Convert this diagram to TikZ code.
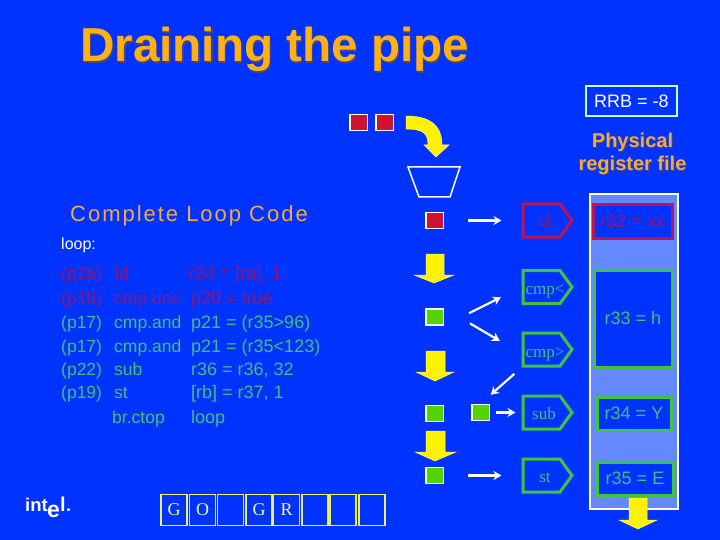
\documentclass[tikz,border=0pt]{standalone}
\usepackage{fontspec}
\setmainfont{Liberation Sans}
\newfontfamily\timesfont{Liberation Serif}
\usetikzlibrary{arrows.meta,shapes.symbols}
\definecolor{bgblue}{RGB}{0,51,255}
\definecolor{filelight}{RGB}{102,136,255}
\definecolor{gold}{RGB}{240,170,70}
\definecolor{titlegold}{RGB}{255,176,20}
\definecolor{shade}{RGB}{70,70,130}
\definecolor{donered}{RGB}{155,20,100}
\definecolor{boxred}{RGB}{185,20,85}
\definecolor{squarered}{RGB}{208,18,50}
\definecolor{donegreen}{RGB}{64,192,125}
\definecolor{boxgreen}{RGB}{64,196,64}
\definecolor{squaregreen}{RGB}{84,212,0}
\definecolor{slotyellow}{RGB}{240,240,90}
\tikzset{
  codetext/.style={anchor=base west,inner sep=0pt,font=\fontsize{17.5}{18}\selectfont},
  regtext/.style={font=\fontsize{18}{18}\selectfont,text=donegreen},
  regbox/.style={draw=boxgreen,line width=3pt,fill=bgblue,inner sep=0pt,regtext},
  uop/.style={signal,signal to=east,signal pointer angle=108,draw=boxgreen,line width=3pt,
    inner sep=0pt,minimum width=49pt,minimum height=33pt},
  uoptext/.style={anchor=base,inner sep=0pt,font=\timesfont\fontsize{17}{17}\selectfont,text=donegreen},
  square/.style={draw=white,line width=1.5pt,minimum width=17.5pt,minimum height=16pt,inner sep=0pt,fill=squaregreen},
  slot/.style={draw=slotyellow,line width=1.5pt,minimum width=26pt,minimum height=31pt,inner sep=0pt,
    font=\timesfont\fontsize{18}{18}\selectfont,text=slotyellow!60!white},
  wire/.style={draw=white,line width=2.2pt,-{Stealth[length=8pt,width=9pt]}},
  yarrow/.style={fill=yellow,draw=yellow!45!white,line width=.5pt},
  headline/.style={anchor=base,inner sep=0pt,font=\bfseries\fontsize{20}{20}\selectfont}
}
\begin{document}
\begin{tikzpicture}[x=1pt,y=-1pt]
\useasboundingbox (0,0) rectangle (720,540);
\fill[bgblue] (0,0) rectangle (720,540);

\node[anchor=base west,inner sep=0pt,font=\bfseries\fontsize{47.6}{48}\selectfont,text=shade] (titleshade) at (81.5,63.5) {Draining the pipe};
\node[anchor=base west,inner sep=0pt,font=\bfseries\fontsize{47.6}{48}\selectfont,text=titlegold] (title) at (80,62) {Draining the pipe};

\node[draw=green!20!white,line width=1.5pt,minimum width=91pt,minimum height=30pt,inner sep=0pt,
  font=\fontsize{18}{18}\selectfont,text=white] (rrb) at (631.5,101) {RRB = -8};
\node[headline,text=shade] (physshade) at (633.5,149) {Physical};
\node[headline,text=gold] (phys) at (632.5,148) {Physical};
\node[headline,text=shade] (regshade) at (633.5,172) {register file};
\node[headline,text=gold] (reg) at (632.5,171) {register file};

% code listing
\node[anchor=base west,inner sep=0pt,font=\addfontfeatures{LetterSpace=9}\fontsize{22}{22}\selectfont,text=gold] (codetitle) at (70,222) {Complete Loop Code};
\node[codetext,text=white,font=\fontsize{16}{16}\selectfont] (looplabel) at (61,249) {loop:};

\node[codetext,text=donered] (p1) at (61,279) {(p16)};
\node[codetext,text=donered] (i1) at (115,279) {ld};
\node[codetext,text=donered,font=\fontsize{18}{18}\selectfont] (a1) at (189,279) {r34 = [ra], 1};
\node[codetext,text=donered] (p2) at (61,304) {(p16)};
\node[codetext,text=donered] (i2) at (114,304) {cmp.unc};
\node[codetext,text=donered,font=\fontsize{18}{18}\selectfont] (a2) at (191,304) {p20 = true};
\node[codetext,text=donegreen] (p3) at (61,328) {(p17)};
\node[codetext,text=donegreen] (i3) at (114,328) {cmp.and};
\node[codetext,text=donegreen,font=\fontsize{18}{18}\selectfont] (a3) at (191,328) {p21 = (r35>96)};
\node[codetext,text=donegreen] (p4) at (61,352) {(p17)};
\node[codetext,text=donegreen] (i4) at (114,352) {cmp.and};
\node[codetext,text=donegreen,font=\fontsize{18}{18}\selectfont] (a4) at (191,352) {p21 = (r35<123)};
\node[codetext,text=donegreen] (p5) at (61,375) {(p22)};
\node[codetext,text=donegreen] (i5) at (114,375) {sub};
\node[codetext,text=donegreen,font=\fontsize{18}{18}\selectfont] (a5) at (191,375) {r36 = r36, 32};
\node[codetext,text=donegreen] (p6) at (61,398) {(p19)};
\node[codetext,text=donegreen] (i6) at (114,398) {st};
\node[codetext,text=donegreen,font=\fontsize{18}{18}\selectfont] (a6) at (191,398) {[rb] = r37, 1};
\node[codetext,text=donegreen] (i7) at (112,423) {br.ctop};
\node[codetext,text=donegreen,font=\fontsize{18}{18}\selectfont] (a7) at (191,423) {loop};

% logo
\node[anchor=base west,inner sep=0pt,font=\bfseries\fontsize{18.5}{19}\selectfont,text=white] (intel) at (25,511) {int};
\node[anchor=base west,inner sep=0pt,font=\bfseries\fontsize{23}{23}\selectfont,text=white] (intele) at (47,517) {e};
\node[anchor=base west,inner sep=0pt,font=\bfseries\fontsize{20}{20}\selectfont,text=white] (intell) at (60,511) {l};
\node[anchor=base west,inner sep=0pt,font=\bfseries\fontsize{18}{18}\selectfont,text=white] (inteldot) at (66,511) {.};

% slots
\node[slot] (s1) at (174,510) {G};
\node[slot] (s2) at (202.5,510) {O};
\node[slot] (s3) at (230.5,510) {};
\node[slot] (s4) at (259,510) {G};
\node[slot] (s5) at (286.5,510) {R};
\node[slot] (s6) at (315,510) {};
\node[slot] (s7) at (343,510) {};
\node[slot] (s8) at (372,510) {};

% register file
\node[draw=white,line width=2pt,fill=filelight,minimum width=88pt,minimum height=314pt,inner sep=0pt] (regfile) at (633.5,351.5) {};
\node[regbox,draw=boxred,text=donered,minimum width=79pt,minimum height=33pt] (r32) at (632.5,221.5) {r32 = xx};
\node[regbox,minimum width=78pt,minimum height=97pt] (r33) at (633,318.5) {r33 = h};
\node[regbox,minimum width=74pt,minimum height=33pt] (r34) at (634,413.5) {r34 = Y};
\node[regbox,minimum width=76pt,minimum height=33pt] (r35) at (635,478.5) {r35 = E};

% pipeline
\node[uop,draw=boxred] (ld) at (541.5,220.5) {};
\node[uoptext,text=donered] (ldtext) at (544,227) {ld};
\node[uop] (cmpa) at (541.5,287) {};
\node[uoptext] (cmpatext) at (545,294) {cmp<};
\node[uop] (cmpb) at (541.5,349.5) {};
\node[uoptext] (cmpbtext) at (545,357) {cmp>};
\node[uop] (sub) at (541.5,412.5) {};
\node[uoptext] (subtext) at (544,419) {sub};
\node[uop] (st) at (541.5,475.5) {};
\node[uoptext] (sttext) at (545,482) {st};

\node[square,fill=squarered] (waita) at (358.5,122.5) {};
\node[square,fill=squarered] (waitb) at (384.5,122.5) {};
\node[square,fill=squarered] (sqld) at (434.5,220.5) {};
\node[square] (sqcmp) at (434.5,317) {};
\node[square] (sqdep) at (434.5,413.5) {};
\node[square] (sqsub) at (480.5,412.5) {};
\node[square] (sqst) at (434.5,475.5) {};

\draw[white,line width=1.5pt] (408,167) -- (460,167) -- (450,197) -- (419,197) -- cycle;

\draw[wire,shorten <=24pt,shorten >=20pt] (sqld) -- (ld);
\draw[wire,shorten <=28pt,shorten >=23pt] (sqcmp.south east) -- (cmpa.west);
\draw[wire,shorten <=30pt,shorten >=25pt] (sqcmp.north east) -- ([yshift=-4pt]cmpb.west);
\draw[wire,shorten <=9.5pt,shorten >=13.5pt] (cmpb.south west) -- (sqsub.north);
\draw[wire,shorten <=6pt,shorten >=6pt] (sqsub) -- (sub);
\draw[wire,shorten <=24pt,shorten >=20pt] (sqst) -- (st);

\draw[yarrow] (406,116) .. controls (428,116) and (442,124) .. (442,145) -- (449,145) -- (436,157) -- (424,145) -- (428,145) .. controls (428,134) and (424,129) .. (406,129) -- cycle;
\draw[yarrow] (426,254) -- (444,254) -- (444,275) -- (454,275) -- (434,283) -- (414,275) -- (426,275) -- cycle;
\draw[yarrow] (426,351) -- (445,351) -- (445,372) -- (454,372) -- (435,381) -- (416,372) -- (426,372) -- cycle;
\draw[yarrow] (426,431) -- (445,431) -- (445,452) -- (456,452) -- (435,461) -- (415,452) -- (426,452) -- cycle;
\draw[yarrow] (629,498) -- (647,498) -- (647,520) -- (657,520) -- (638,529) -- (619,520) -- (629,520) -- cycle;
\end{tikzpicture}
\end{document}
